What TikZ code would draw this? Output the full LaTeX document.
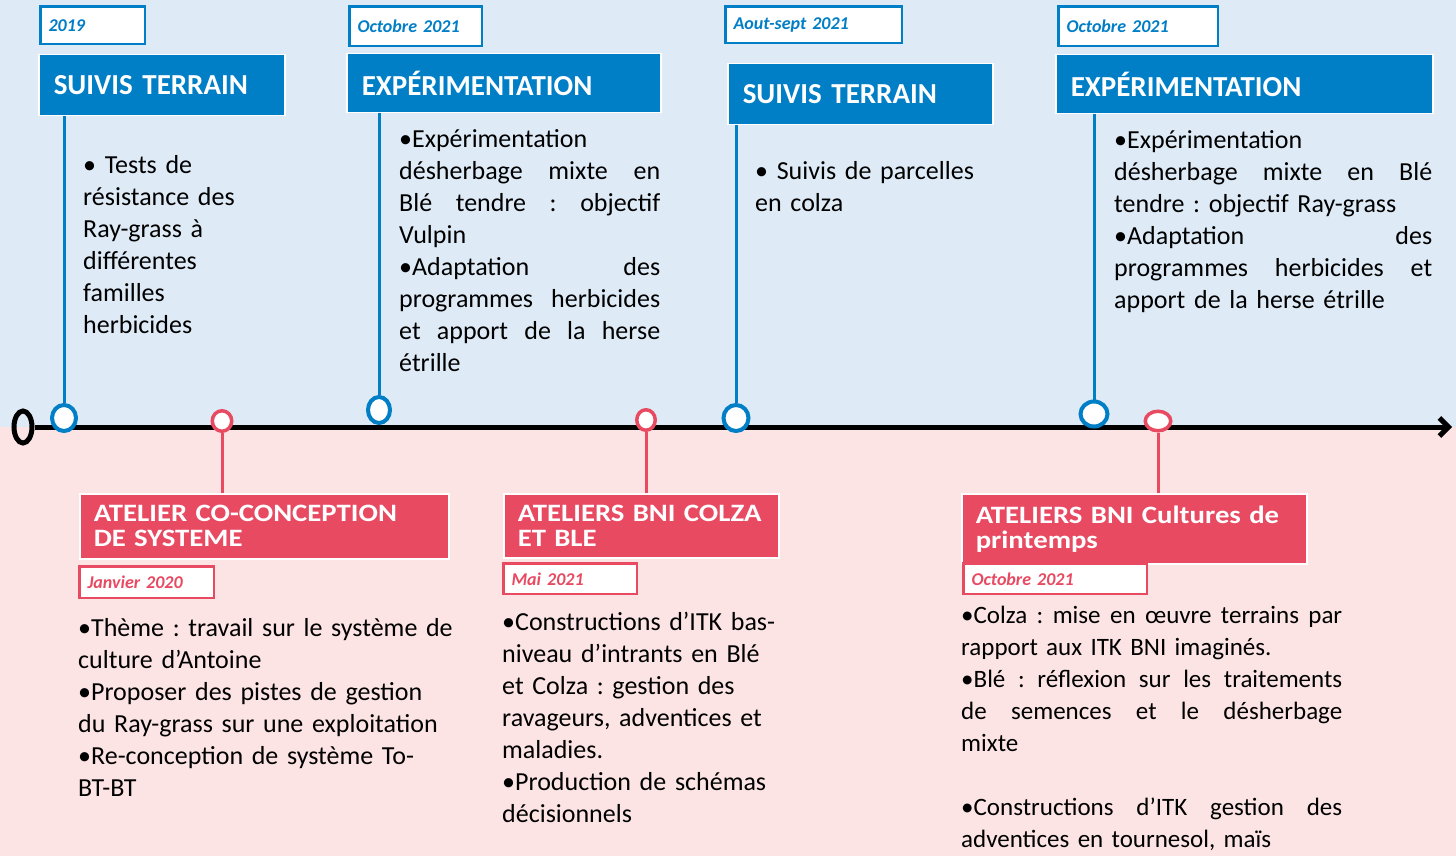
\documentclass[tikz,border=0pt]{standalone}
\usepackage{fontspec}
\setmainfont{Carlito}
\newfontfamily\widefont[FakeStretch=1.15]{Carlito}
\usetikzlibrary{arrows.meta,positioning,shapes.geometric}
\definecolor{blu}{RGB}{0,126,198}
\definecolor{rose}{RGB}{232,74,98}
\definecolor{bluebg}{RGB}{222,235,247}
\definecolor{pinkbg}{RGB}{252,228,228}
\newcommand{\jl}[2]{\makebox[#1][s]{\spaceskip=0pt\xspaceskip=0pt#2}}
\begin{document}
\begin{tikzpicture}[x=1pt, y=-1pt,
  hdr/.style = {fill=blu, draw=white, line width=1.5pt, text=white, anchor=north west, inner xsep=15pt, inner ysep=0pt, align=left, font=\fontsize{29}{29}\selectfont\bfseries},
  phdr/.style = {hdr, fill=rose, inner xsep=14pt, font=\widefont\fontsize{25}{25}\selectfont\bfseries},
  datebox/.style = {fill=white, draw=blu, line width=2.5pt, text=blu, anchor=north west, inner xsep=8pt, inner ysep=0pt, align=left, font=\fontsize{18}{18}\selectfont\bfseries\itshape},
  pdatebox/.style = {datebox, draw=rose, text=rose},
  body/.style = {anchor=north west, inner sep=0pt, align=left, font=\fontsize{26}{32}\selectfont\frenchspacing, execute at begin node=\strut},
  bmark/.style = {ellipse, draw=blu, fill=white, line width=4pt, inner sep=0pt},
  pmark/.style = {bmark, draw=rose, line width=3.5pt},
  bline/.style = {draw=blu, line width=3pt},
  pline/.style = {draw=rose, line width=3pt}]
\useasboundingbox (0,0) rectangle (1456,856);
\fill[bluebg] (0,0) rectangle (1456,427);
\fill[pinkbg] (0,427) rectangle (1456,856);

\node[datebox, text width=88.5pt, minimum height=37.5pt] (d1) at (39.25,5.25) {2019};
\node[datebox, text width=116.5pt, minimum height=39.5pt] (d2) at (348.25,5.25) {Octobre 2021};
\node[datebox, text width=160.5pt, minimum height=36.5pt] (d3) at (724.25,5.25) {Aout-sept 2021};
\node[datebox, text width=143.5pt, minimum height=39.5pt] (d4) at (1057.25,5.25) {Octobre 2021};

\node[hdr, text width=216pt, minimum height=61pt] (h1) at (38,54) {SUIVIS TERRAIN};
\node[hdr, text width=284pt, minimum height=59pt] (h2) at (346,53) {EXPÉRIMENTATION};
\node[hdr, text width=235pt, minimum height=61pt] (h3) at (727,63) {SUIVIS TERRAIN};
\node[hdr, text width=347pt, minimum height=59pt] (h4) at (1055,54) {EXPÉRIMENTATION};

\node[body, text width=200pt] (t1) at (83,151) {• Tests de\\ résistance des\\ Ray-grass à\\ différentes\\ familles\\ herbicides};
\node[body, text width=261pt] (t2) at (399,125) {•Expérimentation\\ \jl{261pt}{désherbage mixte en}\\ \jl{261pt}{Blé tendre : objectif}\\ Vulpin\\ \jl{261pt}{•Adaptation des}\\ \jl{261pt}{programmes herbicides}\\ \jl{261pt}{et apport de la herse}\\ étrille};
\node[body, text width=260pt] (t3) at (755,157) {• Suivis de parcelles\\ en colza};
\node[body, text width=318pt] (t4) at (1114,126) {•Expérimentation\\ \jl{318pt}{désherbage mixte en Blé}\\ tendre : objectif Ray-grass\\ \jl{318pt}{•Adaptation des}\\ \jl{318pt}{programmes herbicides et}\\ apport de la herse étrille};

\node[draw, ellipse, line width=5pt, minimum width=18pt, minimum height=32pt, inner sep=0pt] (o) at (23,427) {};
\coordinate (end) at (1452,427);
\draw[line width=5pt, -{Straight Barb[length=9pt,width=18pt]}] (o) -- (end);

\node[bmark, minimum width=24pt, minimum height=26pt] (m1) at (64,418) {};
\node[bmark, minimum width=22pt, minimum height=26pt] (m2) at (379,410) {};
\node[bmark, minimum width=25pt, minimum height=26pt] (m3) at (736,418) {};
\node[bmark, minimum width=27pt, minimum height=25pt] (m4) at (1094,414) {};
\node[pmark, minimum width=19.5pt, minimum height=20.5pt] (r1) at (222,421) {};
\node[pmark, minimum width=18.5pt, minimum height=20.5pt] (r2) at (646,420) {};
\node[pmark, minimum width=25.5pt, minimum height=19.5pt] (r3) at (1158,421) {};

\draw[bline] (h1.south -| m1) -- (m1);
\draw[bline] (h2.south -| m2) -- (m2);
\draw[bline] (h3.south -| m3) -- (m3);
\draw[bline] (h4.south -| m4) -- (m4);

\node[phdr, text width=341pt, minimum height=65pt] (p1) at (79,493) {ATELIER CO-CONCEPTION\\ DE SYSTEME};
\node[phdr, text width=247pt, minimum height=64pt] (p2) at (503,493) {ATELIERS BNI COLZA\\ ET BLE};
\node[phdr, text width=317pt, minimum height=70pt] (p3) at (961,493) {ATELIERS BNI Cultures de\\ printemps};

\draw[pline] (r1) -- (p1.north -| r1);
\draw[pline] (r2) -- (p2.north -| r2);
\draw[pline] (r3) -- (p3.north -| r3);

\node[pdatebox, text width=118.5pt, minimum height=31.5pt] (q1) at (78.25,565.25) {Janvier 2020};
\node[pdatebox, text width=117.5pt, minimum height=30.5pt] (q2) at (502.25,562.25) {Mai 2021};
\node[pdatebox, text width=167.5pt, minimum height=30.5pt] (q3) at (962.25,562.25) {Octobre 2021};

\node[body, text width=400pt] (n1) at (78,614) {•Thème : travail sur le système de\\ culture d’Antoine\\ •Proposer des pistes de gestion\\ du Ray-grass sur une exploitation\\ •Re-conception de système To-\\ BT-BT};
\node[body, text width=300pt] (n2) at (502,608) {•Constructions d’ITK bas-\\ niveau d’intrants en Blé\\ et Colza : gestion des\\ ravageurs, adventices et\\ maladies.\\ •Production de schémas\\ décisionnels};
\node[body, text width=381pt, font=\fontsize{25}{32}\selectfont\frenchspacing] (n3) at (961,601) {\jl{381pt}{•Colza : mise en œuvre terrains par}\\ rapport aux ITK BNI imaginés.\\ \jl{381pt}{•Blé : réflexion sur les traitements}\\ \jl{381pt}{de semences et le désherbage}\\ mixte\\[32pt] \jl{381pt}{•Constructions d’ITK gestion des}\\ adventices en tournesol, maïs};
\end{tikzpicture}
\end{document}
